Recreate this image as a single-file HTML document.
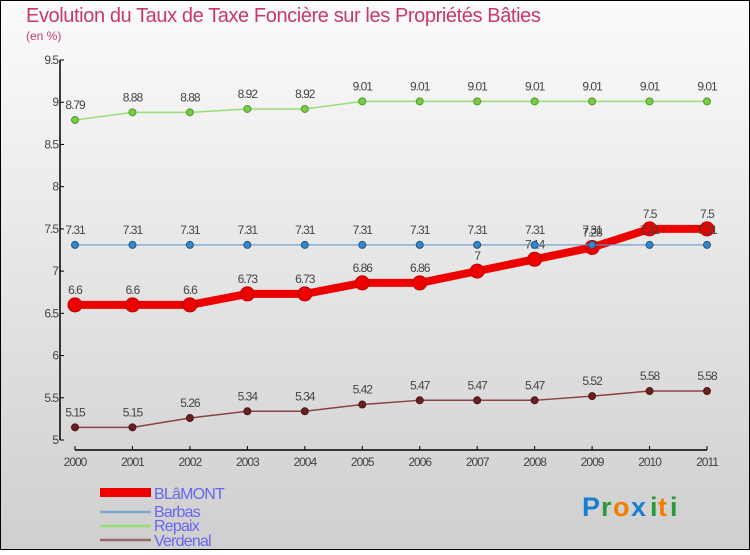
<!DOCTYPE html>
<html><head><meta charset="utf-8"><style>
body{margin:0;width:750px;height:550px;overflow:hidden;font-family:"Liberation Sans",sans-serif}
svg text{font-family:"Liberation Sans",sans-serif}
</style></head><body>
<svg id="c" width="750" height="550" xmlns="http://www.w3.org/2000/svg">
<defs><linearGradient id="bg" x1="0" y1="0" x2="0" y2="1"><stop offset="0" stop-color="#fbfbfb"/><stop offset="1" stop-color="#cfcfcf"/></linearGradient></defs>
<rect x="0.5" y="0.5" width="749" height="549" fill="url(#bg)" stroke="#000"/>
<text x="26" y="22" font-size="20" fill="#c8386a" letter-spacing="-0.4">Evolution du Taux de Taxe Foncière sur les Propriétés Bâties</text>
<text x="26" y="40" font-size="12" fill="#c8386a">(en %)</text>
<g id="axes"></g><g id="series"></g>
<g>
<rect x="100" y="488" width="51" height="9" fill="#e00"/>
<text x="154" y="499" font-size="16" fill="#6666ee" letter-spacing="-0.8">BLâMONT</text>
<line x1="100" y1="512" x2="151" y2="512" stroke="#7fa8cc" stroke-width="2.5"/>
<text x="154" y="517" font-size="16" fill="#6666ee" letter-spacing="-0.8">Barbas</text>
<line x1="100" y1="526" x2="151" y2="526" stroke="#99dd77" stroke-width="2.5"/>
<text x="154" y="531" font-size="16" fill="#6666ee" letter-spacing="-0.8">Repaix</text>
<line x1="100" y1="540" x2="151" y2="540" stroke="#996666" stroke-width="2.5"/>
<text x="154" y="546" font-size="16" fill="#6666ee" letter-spacing="-0.8">Verdenal</text>
</g>
<g font-size="27" font-weight="bold">
<text x="582" y="516" fill="#1a7fd0">P</text><text x="601" y="516" fill="#2a9a3a">r</text><text x="613" y="516" fill="#f08000">o</text><text x="631" y="516" fill="#1a7fd0">x</text><text x="650" y="516" fill="#2a9a3a">i</text><text x="658" y="516" fill="#f08000">t</text><text x="670" y="516" fill="#2a9a3a">i</text>
</g>
</svg>
<script>
const years=[2000,2001,2002,2003,2004,2005,2006,2007,2008,2009,2010,2011];
const blamont=[6.6,6.6,6.6,6.73,6.73,6.86,6.86,7,7.14,7.28,7.5,7.5];
const barbas=[7.31,7.31,7.31,7.31,7.31,7.31,7.31,7.31,7.31,7.31,7.31,7.31];
const repaix=[8.79,8.88,8.88,8.92,8.92,9.01,9.01,9.01,9.01,9.01,9.01,9.01];
const verdenal=[5.15,5.15,5.26,5.34,5.34,5.42,5.47,5.47,5.47,5.52,5.58,5.58];
const yTicks=[5,5.5,6,6.5,7,7.5,8,8.5,9,9.5];
const NS="http://www.w3.org/2000/svg";
function x(i){return 75+i*(707-75)/(years.length-1);}
function y(v){return 440-(v-5)*(380/4.5);}
function mk(t,a,p){const e=document.createElementNS(NS,t);for(const k in a)e.setAttribute(k,a[k]);p.appendChild(e);return e;}
const ax=document.getElementById('axes');
mk('line',{x1:60,y1:y(9.5),x2:60,y2:y(5),stroke:'#000','stroke-width':1.5},ax);
mk('line',{x1:75,y1:450,x2:707,y2:450,stroke:'#000','stroke-width':1.5},ax);
yTicks.forEach(v=>{mk('line',{x1:60,y1:y(v),x2:64,y2:y(v),stroke:'#000'},ax);
const t=mk('text',{x:58,y:y(v)+4,'text-anchor':'end','font-size':12,fill:'#444','letter-spacing':-1},ax);t.textContent=String(v);

});
years.forEach((yr,i)=>{mk('line',{x1:x(i),y1:446,x2:x(i),y2:450,stroke:'#000'},ax);
const t=mk('text',{x:x(i),y:466,'text-anchor':'middle','font-size':12,fill:'#444','letter-spacing':-1},ax);t.textContent=yr;

});
const sg=document.getElementById('series');
function series(name,vals,color,w,r,dot,dotStroke){
 const g=mk('g',{},sg);
 
 
 mk('polyline',{points:vals.map((v,i)=>x(i)+','+y(v)).join(' '),fill:'none',stroke:color,'stroke-width':w,'stroke-linejoin':'round'},g);
 vals.forEach((v,i)=>{const c=mk('circle',{cx:x(i),cy:y(v),r:r,fill:dot,stroke:dotStroke,'stroke-width':1},g);
 
 
 const t=mk('text',{x:x(i),y:y(v)-11,'text-anchor':'middle','font-size':12,fill:'#444','letter-spacing':-1},g);t.textContent=String(v);
 
 });
}
series('repaix',repaix,'#99dd77',1.5,3.5,'#77cc44','#559933');
series('verdenal',verdenal,'#884444',1.5,3.5,'#662222','#551111');
series('blamont',blamont,'#ee0000',8,7,'#ee0000','#bb0000');
series('barbas',barbas,'#6699cc',1.2,3.5,'#3388cc','#225588');
</script>
</body></html>
